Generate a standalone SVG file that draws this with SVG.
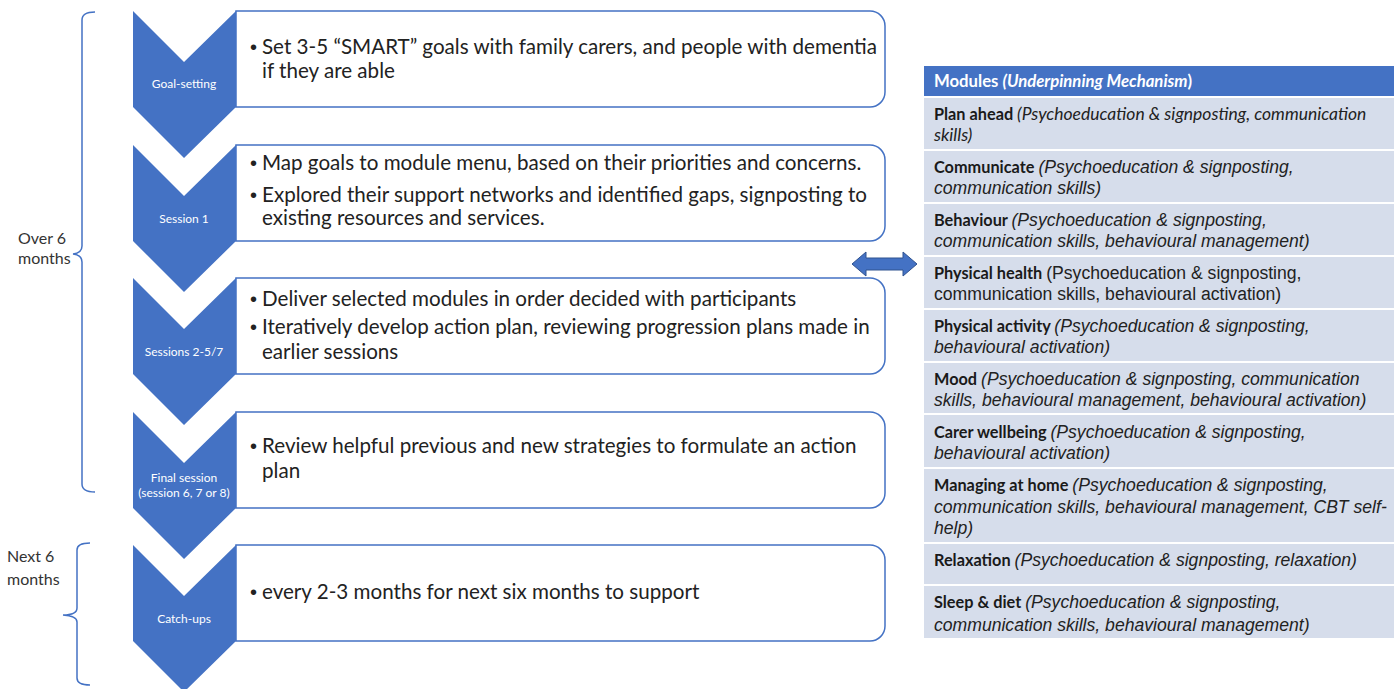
<svg xmlns="http://www.w3.org/2000/svg" width="1394" height="689" viewBox="0 0 1394 689">
<defs>
<style>
.chev{fill:#4472C4;}
.box{fill:#fff;stroke:#4472C4;stroke-width:1.5;}
.clab{font-family:Lato,"Liberation Sans",sans-serif;font-size:12px;fill:#fff;text-anchor:middle;}
.btxt{font-family:Lato,"Open Sans","Liberation Sans",sans-serif;font-size:20.6px;fill:#222;}
.bul{font-family:"Liberation Sans",sans-serif;font-size:20px;fill:#222;}
.side{font-family:Lato,"Liberation Sans",sans-serif;font-size:16px;fill:#333;}
.brace{fill:none;stroke:#4472C4;stroke-width:1.5;}
.row{fill:#D6DDEB;}
.hdr{fill:#4472C4;}
.lbl{font-family:Lato,"Liberation Sans",sans-serif;font-weight:bold;font-size:16.3px;fill:#1a1a1a;}
.it{font-family:"Liberation Sans",Arial,sans-serif;font-style:italic;font-weight:normal;font-size:17.6px;fill:#222;}
.cit{font-family:Lato,"Liberation Sans",sans-serif;font-style:italic;font-weight:normal;font-size:17.5px;fill:#222;}
.rg{font-family:"Liberation Sans",Arial,sans-serif;font-weight:normal;font-size:17.6px;fill:#222;}
.htxt{font-family:Lato,"Liberation Sans",sans-serif;font-weight:bold;font-size:16.7px;fill:#fff;}
</style>
</defs>
<rect width="1394" height="689" fill="#fff"/>

<g id="brackets">
<path class="brace" d="M95,12 Q82,12 82,20 V246 Q82,253 73,254 Q82,255 82,262 V484 Q82,492 95,492"/>
<text class="side" x="18" y="244">Over 6</text>
<text class="side" x="18" y="264">months</text>
<path class="brace" d="M90,543 Q77,543 77,550 V608 Q77,615 63,615 Q77,616 77,622 V678 Q77,685 90,685"/>
<text class="side" x="7" y="562">Next 6</text>
<text class="side" x="7" y="585">months</text>
</g>

<g id="step-goal-setting">
<path class="box" d="M236,11 H870 A15,15 0 0 1 885,26 V92 A15,15 0 0 1 870,107 H236 Z"/>
<polygon class="chev" points="133,11 184,62 236,11 236,107 184,158 133,107"/>
<text class="clab" x="184" y="88">Goal-setting</text>
<text class="bul" x="250" y="54">•</text>
<text class="btxt" x="262" y="54">Set 3-5 “SMART” goals with family carers, and people with dementia</text>
<text class="btxt" x="262" y="78">if they are able</text>
</g>

<g id="step-session1">
<path class="box" d="M236,145 H870 A15,15 0 0 1 885,160 V226 A15,15 0 0 1 870,241 H236 Z"/>
<polygon class="chev" points="133,145 184,196 236,145 236,241 184,292 133,241"/>
<text class="clab" x="184" y="223">Session 1</text>
<text class="bul" x="250" y="170">•</text>
<text class="btxt" x="262" y="170">Map goals to module menu, based on their priorities and concerns.</text>
<text class="bul" x="250" y="202">•</text>
<text class="btxt" x="262" y="202">Explored their support networks and identified gaps, signposting to</text>
<text class="btxt" x="262" y="225">existing resources and services.</text>
</g>

<g id="step-sessions2-5">
<path class="box" d="M236,278 H870 A15,15 0 0 1 885,293 V359 A15,15 0 0 1 870,374 H236 Z"/>
<polygon class="chev" points="133,278 184,329 236,278 236,374 184,425 133,374"/>
<text class="clab" x="184" y="356">Sessions 2-5/7</text>
<text class="bul" x="250" y="306">•</text>
<text class="btxt" x="262" y="306">Deliver selected modules in order decided with participants</text>
<text class="bul" x="250" y="334">•</text>
<text class="btxt" x="262" y="334">Iteratively develop action plan, reviewing progression plans made in</text>
<text class="btxt" x="262" y="359">earlier sessions</text>
</g>

<g id="step-final">
<path class="box" d="M236,412 H870 A15,15 0 0 1 885,427 V493 A15,15 0 0 1 870,508 H236 Z"/>
<polygon class="chev" points="133,412 184,463 236,412 236,508 184,559 133,508"/>
<text class="clab" x="184" y="482">Final session</text>
<text class="clab" x="184" y="497">(session 6, 7 or 8)</text>
<text class="bul" x="250" y="453">•</text>
<text class="btxt" x="262" y="453">Review helpful previous and new strategies to formulate an action</text>
<text class="btxt" x="262" y="478">plan</text>
</g>

<g id="step-catchups">
<path class="box" d="M236,545 H870 A15,15 0 0 1 885,560 V626 A15,15 0 0 1 870,641 H236 Z"/>
<polygon class="chev" points="133,545 184,596 236,545 236,641 184,692 133,641"/>
<text class="clab" x="184" y="623">Catch-ups</text>
<text class="bul" x="250" y="599">•</text>
<text class="btxt" x="262" y="599">every 2-3 months for next six months to support</text>
</g>

<g id="connectors">
<polygon points="852,264 866,252 866,258 903,258 903,252 917,264 903,276 903,270 866,270 866,276" fill="#4472C4" stroke="#2F528F" stroke-width="1"/>
</g>

<g id="modules-table">
<rect class="hdr" x="924" y="66" width="470" height="30"/>
<text class="htxt" x="934" y="87">Modules <tspan font-style="italic">(Underpinning Mechanism</tspan>)</text>

<rect class="row" x="924" y="98" width="470" height="51"/>
<text x="934" y="120"><tspan class="lbl">Plan ahead </tspan><tspan class="cit">(Psychoeducation &amp; signposting, communication</tspan></text>
<text class="cit" x="934" y="141">skills)</text>

<rect class="row" x="924" y="151" width="470" height="51"/>
<text x="934" y="173"><tspan class="lbl">Communicate </tspan><tspan class="it">(Psychoeducation &amp; signposting,</tspan></text>
<text class="it" x="934" y="194">communication skills)</text>

<rect class="row" x="924" y="204" width="470" height="51"/>
<text x="934" y="226"><tspan class="lbl">Behaviour </tspan><tspan class="it">(Psychoeducation &amp; signposting,</tspan></text>
<text class="it" x="934" y="247">communication skills, behavioural management)</text>

<rect class="row" x="924" y="257" width="470" height="51"/>
<text x="934" y="279"><tspan class="lbl">Physical health </tspan><tspan class="rg">(Psychoeducation &amp; signposting,</tspan></text>
<text class="rg" x="934" y="300">communication skills, behavioural activation)</text>

<rect class="row" x="924" y="310" width="470" height="51"/>
<text x="934" y="332"><tspan class="lbl">Physical activity </tspan><tspan class="it">(Psychoeducation &amp; signposting,</tspan></text>
<text class="it" x="934" y="353">behavioural activation)</text>

<rect class="row" x="924" y="363" width="470" height="50"/>
<text x="934" y="385"><tspan class="lbl">Mood </tspan><tspan class="it">(Psychoeducation &amp; signposting, communication</tspan></text>
<text class="it" x="934" y="406">skills, behavioural management, behavioural activation)</text>

<rect class="row" x="924" y="415" width="470" height="52"/>
<text x="934" y="438"><tspan class="lbl">Carer wellbeing </tspan><tspan class="it">(Psychoeducation &amp; signposting,</tspan></text>
<text class="it" x="934" y="459">behavioural activation)</text>

<rect class="row" x="924" y="469" width="470" height="73"/>
<text x="934" y="491"><tspan class="lbl">Managing at home </tspan><tspan class="it">(Psychoeducation &amp; signposting,</tspan></text>
<text class="it" x="934" y="513">communication skills, behavioural management, CBT self-</text>
<text class="it" x="934" y="534">help)</text>

<rect class="row" x="924" y="544" width="470" height="40"/>
<text x="934" y="566"><tspan class="lbl">Relaxation </tspan><tspan class="it">(Psychoeducation &amp; signposting, relaxation)</tspan></text>

<rect class="row" x="924" y="586" width="470" height="52"/>
<text x="934" y="608"><tspan class="lbl">Sleep &amp; diet </tspan><tspan class="it">(Psychoeducation &amp; signposting,</tspan></text>
<text class="it" x="934" y="631">communication skills, behavioural management)</text>
</g>
</svg>
